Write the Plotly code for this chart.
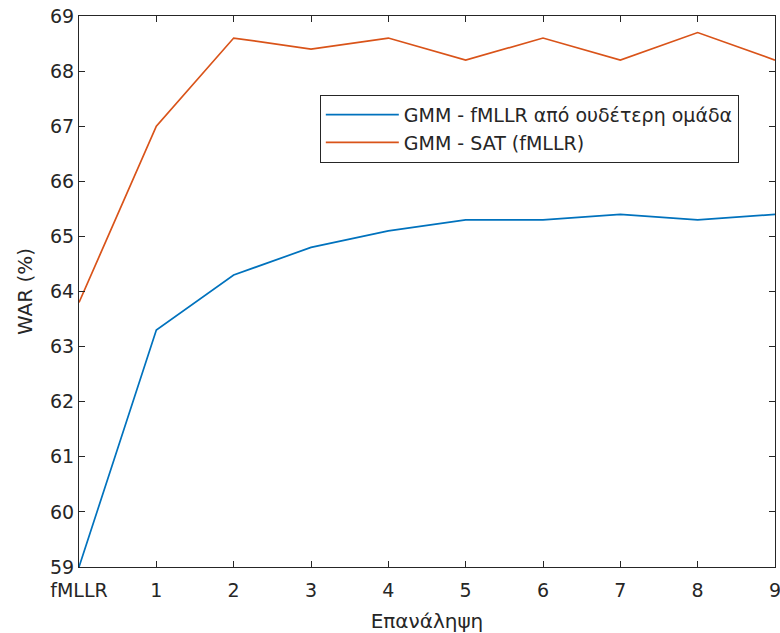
import plotly.graph_objects as go

categories = ["fMLLR", "1", "2", "3", "4", "5", "6", "7", "8", "9"]
gmm_fmllr = [59.0, 63.3, 64.3, 64.8, 65.1, 65.3, 65.3, 65.4, 65.3, 65.4]
gmm_sat = [63.8, 67.0, 68.6, 68.4, 68.6, 68.2, 68.6, 68.2, 68.7, 68.2]
series_names = ["GMM - fMLLR από ουδέτερη ομάδα", "GMM - SAT (fMLLR)"]
y_ticks = list(range(59, 70))

xpos = list(range(len(categories)))

fig = go.Figure()
fig.add_trace(go.Scatter(x=xpos, y=gmm_fmllr, mode="lines", name=series_names[0],
                         line=dict(color="#0072BD", width=1.7)))
fig.add_trace(go.Scatter(x=xpos, y=gmm_sat, mode="lines", name=series_names[1],
                         line=dict(color="#D95319", width=1.7)))

axis_common = dict(showgrid=False, zeroline=False, showline=True, linecolor="#262626",
                   linewidth=1, mirror="ticks", ticks="inside", ticklen=6,
                   tickcolor="#262626", tickfont=dict(size=19, color="#262626"),
                   ticklabeloverflow="allow", automargin=False)

fig.update_layout(
    width=780, height=633,
    margin=dict(l=79, r=5, t=16, b=66),
    paper_bgcolor="white", plot_bgcolor="white",
    font=dict(family="DejaVu Sans", color="#262626"),
    xaxis=dict(range=[0, 9], tickmode="array", tickvals=xpos, ticktext=categories,
               ticklabelstandoff=6,
               title=dict(text="Επανάληψη", font=dict(size=20), standoff=14), **axis_common),
    yaxis=dict(range=[59, 69], tickmode="array", tickvals=y_ticks,
               title=dict(text="WAR (%)", font=dict(size=20), standoff=12), **axis_common),
    legend=dict(x=0.346, y=0.857, xanchor="left", yanchor="top", itemwidth=73,
                bordercolor="#262626", borderwidth=1, bgcolor="white",
                font=dict(size=19, color="#262626"), tracegroupgap=0),
    showlegend=True,
)

fig.write_html("out.html")
